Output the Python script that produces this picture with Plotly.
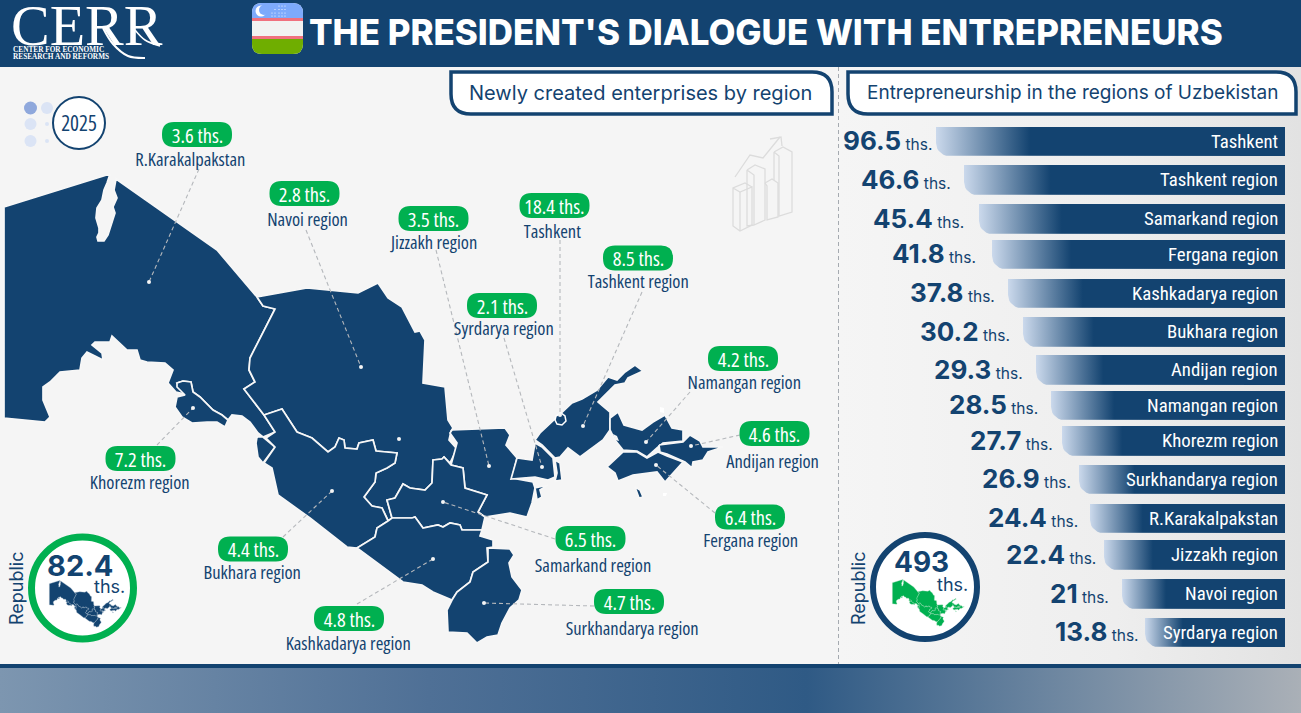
import numpy as np
import plotly.graph_objects as go

NAVY = "#134370"
GREEN = "#00b050"
NARROW = "Open Sans, sans-serif"  # squeezed further in post_script below
BAR_FONT = "Roboto Condensed, Roboto, sans-serif"
WIDE = "Inter, sans-serif"
SERIF = "Liberation Serif, serif"

# right panel: ranking
TOTAL_REGIONS = ["Tashkent", "Tashkent region", "Samarkand region", "Fergana region", "Kashkadarya region",
                 "Bukhara region", "Andijan region", "Namangan region", "Khorezm region", "Surkhandarya region",
                 "R.Karakalpakstan", "Jizzakh region", "Navoi region", "Syrdarya region"]
TOTAL_THS = ["96.5", "46.6", "45.4", "41.8", "37.8", "30.2", "29.3", "28.5", "27.7", "26.9", "24.4", "22.4", "21", "13.8"]
# drawn length of each bar, the picture does not scale them to the value
BAR_LENGTH = [349, 321, 306, 293, 277, 262, 249, 234, 223, 206, 195, 181, 163, 140]
BAR_TOP = [127, 165, 204, 240, 279, 317, 355, 391, 426, 465, 504, 540, 579, 618]
BAR_BOTTOM = [156, 195, 234, 269, 308, 347, 385, 420, 456, 494, 533, 570, 609, 647]
VALUE_RIGHT = [934, 953, 966, 978, 997, 1012, 1025, 1040, 1055, 1073, 1080, 1098, 1111, 1141]
BAR_RIGHT = 1285

# left panel: new enterprises
NEW_REGIONS = ["R.Karakalpakstan", "Navoi region", "Jizzakh region", "Tashkent", "Tashkent region", "Syrdarya region",
               "Namangan region", "Andijan region", "Fergana region", "Samarkand region", "Surkhandarya region",
               "Kashkadarya region", "Bukhara region", "Khorezm region"]
NEW_THS = ["3.6", "2.8", "3.5", "18.4", "8.5", "2.1", "4.2", "4.6", "6.4", "6.5", "4.7", "4.8", "4.4", "7.2"]
PILL_X = [197, 304.5, 433.5, 554.5, 638, 502, 743, 774.5, 750, 590.5, 629, 349, 253, 140.5]
PILL_Y = [134.5, 193.5, 218.5, 205.5, 258, 305.5, 358.5, 433.5, 517, 538.5, 601.5, 618.5, 549, 458.5]
NAME_X = [190, 307, 433, 552, 638, 504, 744, 772, 750, 593, 632, 348, 252, 140]
NAME_Y = [158, 218, 241, 230, 280, 327, 381, 460, 539, 564, 627, 642, 571, 481]
LEADER_FROM = [(199, 169), (306, 230), (436, 250), (560, 240), (642, 292), (504, 338), (690, 392), (740, 435),
               (715, 513), (555, 539), (594, 606), (357, 604), (283, 537), (157, 445)]
LEADER_TO = [(149, 282), (361, 367), (489, 466), (560, 415), (583, 426), (542, 467), (646, 442), (691, 446),
             (656, 465), (443, 502), (484, 603), (433, 559), (332, 491), (193, 408)]

# map outlines
KARAKALPAKSTAN = [(4, 207), (110, 174), (107, 183), (104, 190), (102, 200), (97, 208), (96, 218), (99, 228), (99, 233),
                  (97, 237), (98, 241), (104, 241), (108, 235), (111, 225), (115, 213), (113, 207), (117, 198), (114, 190),
                  (116, 179), (217, 250), (257, 297), (263, 306), (275, 309),
                  (250, 358), (249, 370), (255, 382), (244, 389), (264, 415), (275, 432), (263, 437), (258, 433),
                  (250, 422), (242, 416), (232, 415), (228, 420), (222, 415), (213, 410), (200, 397), (193, 392),
                  (191, 382), (183, 381), (177, 383), (185, 394), (176, 392), (168, 383), (173, 370), (165, 363),
                  (147, 362), (140, 360), (137, 350), (127, 350), (112, 336), (110, 342), (95, 342), (92, 345),
                  (102, 353), (103, 360), (93, 355), (87, 352), (82, 358), (80, 370), (60, 372), (50, 382), (43, 387),
                  (43, 400), (50, 417), (45, 422), (4, 418)]
STRIP = [(257, 437), (263, 437), (275, 447), (263, 463), (258, 457), (256, 443)]
KHOREZM = [(177, 383), (183, 381), (191, 382), (193, 392), (200, 397), (213, 410), (222, 415), (228, 420), (225, 427),
           (217, 422), (207, 422), (192, 423), (182, 417), (175, 407), (177, 397), (185, 395), (177, 387)]
NAVOI = [(257, 297), (307, 288), (358, 293), (378, 283), (388, 298), (402, 307), (415, 332), (420, 331), (425, 340),
         (423, 383), (445, 387), (448, 420), (453, 428), (451, 431), (449, 440), (457, 449), (450, 463), (444, 457),
         (442, 459), (433, 460), (432, 483), (425, 490), (410, 488), (403, 484), (395, 498), (387, 500), (392, 518),
         (388, 521), (387, 518), (382, 508), (372, 506), (364, 497), (375, 482), (376, 473), (387, 468), (395, 463),
         (397, 453), (376, 451), (373, 440), (359, 443), (357, 449), (345, 448), (344, 440), (339, 438), (335, 447),
         (328, 452), (312, 438), (297, 432), (282, 409), (264, 415), (244, 389), (255, 382), (249, 370), (250, 358),
         (275, 309), (263, 306)]
BUKHARA = [(264, 415), (282, 409), (297, 432), (312, 438), (328, 452), (335, 447), (339, 438), (344, 440), (345, 448),
           (357, 449), (359, 443), (373, 440), (376, 451), (397, 453), (395, 463), (387, 468), (376, 473), (375, 482),
           (364, 497), (372, 506), (382, 508), (387, 518), (388, 521), (377, 528), (375, 537), (357, 548), (347, 547),
           (310, 518), (278, 495), (272, 468), (264, 463), (275, 447), (266, 438), (275, 432)]
JIZZAKH = [(452, 430), (505, 428), (510, 435), (506, 445), (517, 458), (516, 462), (512, 478), (533, 482), (535, 488),
           (532, 503), (527, 517), (510, 513), (485, 517), (478, 512), (487, 495), (465, 488), (463, 468), (451, 465),
           (457, 443), (450, 433)]
JIZZAKH_BIT = [(535, 488), (548, 485), (540, 490), (542, 497), (537, 500)]
SAMARKAND = [(392, 518), (387, 500), (395, 498), (403, 484), (410, 488), (425, 490), (432, 483), (433, 460), (442, 459),
             (444, 457), (451, 465), (463, 468), (465, 488), (487, 495), (478, 512), (485, 517), (482, 530), (462, 530),
             (460, 525), (450, 523), (443, 527), (438, 525), (423, 528), (415, 517), (412, 518)]
KASHKADARYA = [(388, 521), (392, 518), (412, 518), (415, 517), (423, 528), (438, 525), (443, 527), (450, 523), (460, 525),
               (462, 530), (482, 530), (480, 536), (493, 540), (493, 547), (487, 548), (488, 562), (473, 572), (470, 582),
               (457, 592), (452, 600), (433, 592), (422, 585), (403, 582), (357, 548), (375, 537), (377, 528)]
SURKHANDARYA = [(488, 548), (510, 549), (514, 555), (509, 563), (512, 577), (522, 590), (519, 600), (510, 608), (502, 623),
                (498, 635), (487, 637), (477, 643), (467, 633), (448, 632), (447, 610), (452, 600), (457, 592), (470, 582),
                (473, 572), (488, 562)]
SYRDARYA = [(517, 458), (532, 460), (535, 443), (542, 447), (553, 458), (555, 477), (548, 480), (535, 477), (511, 479)]
TASHKENT_REGION = [(535, 440), (540, 433), (555, 419), (572, 403), (582, 399), (597, 390), (608, 377), (617, 380),
                   (625, 372), (635, 365), (643, 371), (628, 378), (625, 383), (615, 385), (598, 402), (610, 412),
                   (610, 430), (603, 440), (580, 457), (568, 448), (560, 457), (555, 458), (542, 445)]
TASHKENT_BIT = [(555, 460), (560, 463), (562, 480), (555, 481), (557, 473)]
NAMANGAN = [(610, 418), (618, 412), (624, 425), (642, 430), (653, 422), (665, 415), (672, 428), (683, 430), (683, 441),
            (663, 443), (657, 448), (647, 457), (637, 451), (623, 450), (615, 440), (610, 430)]
ANDIJAN = [(659, 445), (683, 442), (690, 435), (700, 441), (703, 447), (723, 447), (708, 452), (703, 460), (693, 462),
           (692, 468), (685, 462), (667, 454), (660, 452)]
FERGANA = [(607, 467), (623, 452), (637, 452), (647, 458), (658, 452), (667, 456), (683, 462), (673, 473), (665, 482),
           (657, 472), (633, 475), (618, 481), (615, 473)]
ENCLAVE = [(635, 487), (640, 490), (643, 497), (639, 498)]
TASHKENT_CITY = [(556, 416), (561, 413), (565, 416), (566, 421), (562, 425), (557, 424), (555, 420)]
MAP_PARTS = [KARAKALPAKSTAN, STRIP, KHOREZM, NAVOI, BUKHARA, JIZZAKH, JIZZAKH_BIT, SAMARKAND, KASHKADARYA, SURKHANDARYA,
             SYRDARYA, TASHKENT_REGION, TASHKENT_BIT, NAMANGAN, ANDIJAN, FERGANA, ENCLAVE]

fig = go.Figure()
shapes = []
notes = []


def poly(points, color=None, line=None, width=0.0, gradient=None, closed=True, dash=None):
    xs = [p[0] for p in points] + ([points[0][0]] if closed else [])
    ys = [p[1] for p in points] + ([points[0][1]] if closed else [])
    kw = {}
    if closed:
        kw["fill"] = "toself"
        if gradient:
            kw["fillgradient"] = dict(type="horizontal", colorscale=gradient)
        else:
            kw["fillcolor"] = color
    fig.add_trace(go.Scatter(x=xs, y=ys, mode="lines", hoverinfo="skip", showlegend=False,
                             line=dict(color=line or "rgba(0,0,0,0)", width=width, dash=dash), **kw))


def label(x, y, text, size, color=NAVY, family=NARROW, anchor="center", angle=0, weight=None):
    font = dict(size=size, color=color, family=family)
    if weight:
        font["weight"] = weight
    notes.append(dict(x=x, y=y, text=text, showarrow=False, xanchor=anchor, yanchor="middle", textangle=angle, font=font))


def rect(x0, y0, x1, y1, fill, layer="below"):
    shapes.append(dict(type="rect", x0=x0, y0=y0, x1=x1, y1=y1, fillcolor=fill, line_width=0, layer=layer))


def circle(cx, cy, r, fill, line=None, width=0):
    shapes.append(dict(type="circle", x0=cx - r, y0=cy - r, x1=cx + r, y1=cy + r, fillcolor=fill, layer="above",
                       line=dict(color=line or "rgba(0,0,0,0)", width=width)))


def round_path(x0, y0, x1, y1, tl=0, tr=0, br=0, bl=0):
    return (f"M {x0 + tl} {y0} L {x1 - tr} {y0} Q {x1} {y0} {x1} {y0 + tr} L {x1} {y1 - br} Q {x1} {y1} {x1 - br} {y1} "
            f"L {x0 + bl} {y1} Q {x0} {y1} {x0} {y1 - bl} L {x0} {y0 + tl} Q {x0} {y0} {x0 + tl} {y0} Z")


def path(d, fill, line=None, width=0, layer="above"):
    shapes.append(dict(type="path", path=d, fillcolor=fill, layer=layer,
                       line=dict(color=line or "rgba(0,0,0,0)", width=width)))


# backgrounds
rect(0, 0, 1301, 67, NAVY)
rect(0, 664, 1301, 668, NAVY, layer="above")
poly([(839, 67), (1301, 67), (1301, 664), (839, 664)], gradient=[[0, "#f5f5f5"], [0.6, "#eeeeee"], [1, "#e2e2e2"]])
poly([(0, 668), (1301, 668), (1301, 713), (0, 713)],
     gradient=[[0, "#7d96b0"], [0.33, "#4f7096"], [0.62, "#2f5a85"], [0.8, "#6a849f"], [1, "#aab0b7"]])
shapes.append(dict(type="line", x0=839, x1=839, y0=67, y1=664, layer="below", line=dict(color="#555f6b", width=1, dash="4px,3px")))

# map
for part in MAP_PARTS:
    poly(part, color=NAVY, line="#f7f7f7", width=1.7)
poly(TASHKENT_CITY, color=NAVY, line="#ffffff", width=1.5)
poly([(613, 434), (617, 436), (619, 441), (615, 440)], color="#f5f5f5")
poly([(660, 407), (664, 408), (664, 413), (660, 412)], color="#ffffff")
poly([(663, 493), (667, 493), (666, 496), (663, 496)], color="#ffffff")

# leaders
for a, b in zip(LEADER_FROM, LEADER_TO):
    poly([a, b], line="#b5b8bc", width=1.1, closed=False, dash="4px,3px")
fig.add_trace(go.Scatter(x=[p[0] for p in LEADER_TO] + [399], y=[p[1] for p in LEADER_TO] + [439], mode="markers",
                         hoverinfo="skip", showlegend=False, marker=dict(size=4, color="#f5f5f5")))

# pills and names
for name, val, px_, py_, nx, ny in zip(NEW_REGIONS, NEW_THS, PILL_X, PILL_Y, NAME_X, NAME_Y):
    path(round_path(px_ - 35, py_ - 12.5, px_ + 35, py_ + 12.5, 12, 12, 12, 12), GREEN)
    label(px_, py_, f"{val} ths.", 20.5, color="#ffffff", weight=500)
    label(nx, ny, name, 18.5, weight=500)

# bars
for name, val, length, top, bottom, vr in zip(TOTAL_REGIONS, TOTAL_THS, BAR_LENGTH, BAR_TOP, BAR_BOTTOM, VALUE_RIGHT):
    left = BAR_RIGHT - length
    t = np.linspace(0, np.pi / 2, 8)
    corner = [(left + 13 - 13 * np.cos(a), bottom - 13 + 13 * np.sin(a)) for a in t]
    outline = [(left, top), (BAR_RIGHT, top), (BAR_RIGHT, bottom)] + corner[::-1]
    poly(outline, gradient=[[0, "#cbd9ec"], [0.27, NAVY], [1, NAVY]])
    label(1280, (top + bottom) / 2, name, 18.8, color="#ffffff", family=BAR_FONT, anchor="right")
    label(vr, (top + bottom) / 2 - 1, f"<span style='font-size:26px'><b>{val}</b></span> ths.", 15.5, family=WIDE, anchor="right")

# header
label(9, 25, "CERR", 58, color="#ffffff", family=SERIF, anchor="left")
label(11, 49, "<b>CENTER FOR ECONOMIC</b>", 7.3, color="#ffffff", family=SERIF, anchor="left")
label(11, 56, "<b>RESEARCH AND REFORMS</b>", 7.3, color="#ffffff", family=SERIF, anchor="left")
fig.add_trace(go.Scatter(x=[103, 113, 128, 145], y=[28, 44, 56, 58], mode="lines", hoverinfo="skip", showlegend=False,
                         line=dict(color="#ffffff", width=2, shape="spline")))
fig.add_trace(go.Scatter(x=[135, 145, 160], y=[30, 40, 46], mode="lines", hoverinfo="skip", showlegend=False,
                         line=dict(color="#ffffff", width=1.5, shape="spline")))
path(round_path(252, 3, 303, 54, 10, 10, 10, 10), "#f2f2f2")
path(round_path(252, 3, 303, 18, 10, 10, 0, 0), "#7daafc")
path(round_path(252, 39, 303, 54, 0, 0, 10, 10), "#6fae00")
rect(252, 18, 303, 21, "#f0717f", layer="above")
rect(252, 36, 303, 39, "#f0717f", layer="above")
circle(261, 11, 5.5, "#ffffff")
circle(264, 10, 5, "#7daafc")
for sy, sxs in zip([6, 9.5, 13, 16], [[279, 282, 285], [275, 279, 282, 285], [272, 275, 279, 282, 285], [272, 275, 279, 282, 285]]):
    for sx in sxs:
        circle(sx, sy, 0.6, "#ffffff")
label(766, 32, "THE PRESIDENT'S DIALOGUE WITH ENTREPRENEURS", 34.9, color="#ffffff", family=WIDE, weight=800)

# section headings
path(round_path(451, 72, 832, 114, 0, 20, 0, 20), "#ffffff", NAVY, 3.5)
label(640, 93, "Newly created enterprises by region", 20, family=WIDE)
path(round_path(848, 72, 1296, 114, 0, 20, 0, 20), "#ffffff", NAVY, 3.5)
label(1072, 92, "Entrepreneurship in the regions of Uzbekistan", 19, family=WIDE)

# year badge
circle(79, 123, 26, "#ffffff", NAVY, 2)
label(79, 123, "2025", 21, weight=500)
for cx, cy, r, c in [(30.5, 108, 6.5, "#8fa8dc"), (47, 108, 6, "#dbe4f5"), (30.5, 124, 6, "#dbe4f5"),
                     (47, 124, 2, "#dbe4f5"), (30.5, 141, 6, "#dbe4f5"), (47, 141, 2, "#dbe4f5")]:
    circle(cx, cy, r, c)


# republic circles with the same outlines drawn small
def mini_map(dx, dy, fill, edge):
    for part in MAP_PARTS:
        d = "M " + " L ".join(f"{p[0] * 0.1 + dx:.1f} {p[1] * 0.1 + dy:.1f}" for p in part) + " Z"
        path(d, fill, edge, 0.35)


circle(82.5, 588, 51, "#ffffff", GREEN, 7)
mini_map(49, 563, NAVY, "#9fb3c6")
label(80, 565, "<b>82.4</b>", 29, family=WIDE)
label(109, 586, "ths.", 18, family=WIDE)
label(16, 588, "Republic", 18, family=WIDE, angle=-90)

circle(925, 587, 52, "#ffffff", NAVY, 6)
mini_map(892, 562, GREEN, "#a7e0bd")
label(921, 562, "<b>493</b>", 28, family=WIDE)
label(952, 584, "ths.", 18, family=WIDE)
label(858, 588, "Republic", 18, family=WIDE, angle=-90)

# bag icon
ICON = "#d6d6d6"
path(round_path(892, 472, 952, 517, 0, 0, 6, 6), "rgba(0,0,0,0)", ICON, 3, layer="below")
path(round_path(909, 463, 935, 472, 5, 5, 0, 0), "rgba(0,0,0,0)", ICON, 3, layer="below")
for x0, y0, x1, y1 in [(892, 492, 952, 492), (910, 485, 910, 500), (935, 485, 935, 500)]:
    shapes.append(dict(type="line", x0=x0, y0=y0, x1=x1, y1=y1, layer="below", line=dict(color=ICON, width=3)))

# rising bars icon
BARS_ICON = [[(733, 188), (740, 192), (752, 187), (752, 225), (740, 231), (733, 226), (733, 188), (745, 183), (752, 187)],
             [(740, 192), (740, 231)],
             [(747, 170), (755, 165), (765, 169), (765, 220), (754, 225), (754, 175), (747, 170), (747, 226), (754, 225)],
             [(765, 183), (772, 179), (778, 183), (778, 217), (767, 220), (767, 186), (765, 183)],
             [(774, 152), (783, 147), (792, 152), (792, 212), (779, 216), (779, 156), (774, 152), (774, 180)],
             [(735, 177), (750, 155), (763, 158), (780, 137)], [(770, 139), (781, 137), (782, 146)]]
for seg in BARS_ICON:
    poly(seg, line="#dcdcdc", width=1.3, closed=False)

fig.update_layout(width=1301, height=713, margin=dict(l=0, r=0, t=0, b=0), paper_bgcolor="#f5f5f5", plot_bgcolor="#f5f5f5",
                  xaxis=dict(range=[0, 1301], visible=False, fixedrange=True),
                  yaxis=dict(range=[713, 0], visible=False, fixedrange=True),
                  shapes=shapes, annotations=notes, showlegend=False)
squeeze = ("document.querySelectorAll('.annotation-text').forEach(function(t){"
           "if(t.style.fontFamily.indexOf('Open Sans')>=0){t.style.fontStretch='75%';}});")
fig.write_html("out.html", config=dict(displayModeBar=False),
               post_script="document.body.style.margin='0';document.body.style.overflow='hidden';" + squeeze)
